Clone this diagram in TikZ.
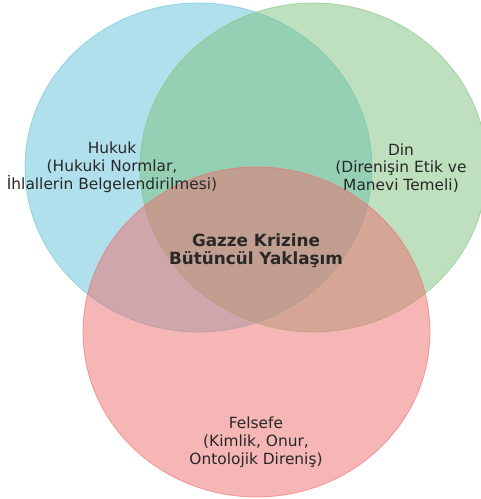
\documentclass[tikz,border=0pt]{standalone}
\usepackage{fontspec}
\setmainfont{DejaVu Sans}
\usepackage{tikz}
\usetikzlibrary{positioning}

\definecolor{hukukblue}{RGB}{97,193,217}
\definecolor{dingreen}{RGB}{125,193,125}
\definecolor{felsefered}{RGB}{237,109,109}
\definecolor{labelgray}{RGB}{40,40,40}

\tikzset{
  setfill/.style={fill=#1,fill opacity=0.5,draw=#1,draw opacity=0.6,line width=0.8pt},
  setlabel/.style={align=center,font=\fontsize{15.4}{17.8}\selectfont,text=labelgray},
  corelabel/.style={align=center,font=\fontsize{16.8}{18.5}\selectfont\bfseries,text=labelgray}
}

\begin{document}
\begin{tikzpicture}[x=1pt,y=1pt]
  \useasboundingbox (0,0) rectangle (481,499);

  % the three sets, red one last so it sits on top
  \draw[setfill=hukukblue]  (198.5,331.5) ellipse [x radius=173.5, y radius=164.5];
  \draw[setfill=dingreen]   (313.5,331.5) ellipse [x radius=173.5, y radius=164.5];
  \draw[setfill=felsefered] (256.5,167.0) ellipse [x radius=173.5, y radius=165];

  % set labels
  \node[setlabel] (hukuk)   at (112,332) {Hukuk\\(Hukuki Normlar,\\İhlallerin Belgelendirilmesi)};
  \node[setlabel] (din)     at (401,331) {Din\\(Direnişin Etik ve\\Manevi Temeli)};
  \node[setlabel] (felsefe) at (256,57)  {Felsefe\\(Kimlik, Onur,\\Ontolojik Direniş)};

  % centre
  \node[corelabel] (merkez) at (256,248) {Gazze Krizine\\Bütüncül Yaklaşım};
\end{tikzpicture}
\end{document}
